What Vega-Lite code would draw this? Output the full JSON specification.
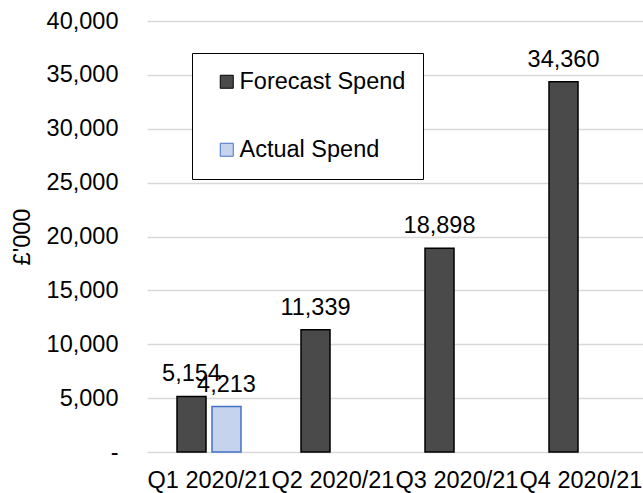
{
  "$schema": "https://vega.github.io/schema/vega-lite/v6.json",
  "width": 496,
  "height": 431,
  "autosize": "none",
  "padding": {"left": 147, "top": 21, "right": 0, "bottom": 41},
  "data": {
    "values": [
      {"quarter": "Q1 2020/21", "series": "Forecast Spend", "value": 5154},
      {"quarter": "Q1 2020/21", "series": "Actual Spend", "value": 4213},
      {"quarter": "Q2 2020/21", "series": "Forecast Spend", "value": 11339},
      {"quarter": "Q3 2020/21", "series": "Forecast Spend", "value": 18898},
      {"quarter": "Q4 2020/21", "series": "Forecast Spend", "value": 34360}
    ]
  },
  "encoding": {
    "x": {
      "field": "quarter",
      "type": "nominal",
      "sort": ["Q1 2020/21", "Q2 2020/21", "Q3 2020/21", "Q4 2020/21"],
      "scale": {"paddingInner": 0.484, "paddingOuter": 0.242},
      "axis": {"title": null, "labelAngle": 0, "domain": false, "ticks": false, "labelPadding": 16, "labelFontSize": 23.5, "labelColor": "#000000"}
    },
    "xOffset": {
      "field": "series",
      "type": "nominal",
      "sort": ["Forecast Spend", "Actual Spend"],
      "scale": {"domain": ["Forecast Spend", "Actual Spend"], "paddingInner": 0.171, "paddingOuter": 0}
    },
    "y": {
      "field": "value",
      "type": "quantitative",
      "scale": {"domain": [0, 40000], "nice": false},
      "axis": {
        "title": "£'000",
        "values": [0, 5000, 10000, 15000, 20000, 25000, 30000, 35000, 40000],
        "labelExpr": "datum.value == 0 ? '-' : format(datum.value, ',')",
        "domain": false,
        "ticks": false,
        "labelPadding": 29,
        "labelFontSize": 23.5,
        "labelColor": "#000000",
        "titleFontSize": 23.5,
        "titleFontWeight": "normal",
        "titleColor": "#000000",
        "titlePadding": 12,
        "gridColor": "#d9d9d9",
        "gridWidth": 1.3
      }
    }
  },
  "layer": [
    {
      "mark": {"type": "bar", "strokeWidth": 1.5},
      "encoding": {
        "color": {
          "field": "series",
          "type": "nominal",
          "scale": {"domain": ["Forecast Spend", "Actual Spend"], "range": ["#4a4a4a", "#c5d3ec"]},
          "legend": {
            "title": null,
            "orient": "none",
            "legendX": 45,
            "legendY": 32,
            "strokeColor": "#000000",
            "fillColor": "#ffffff",
            "padding": 17,
            "rowPadding": 43,
            "symbolType": "square",
            "symbolSize": 169,
            "symbolOffset": 6,
            "symbolStrokeWidth": 1,
            "labelOffset": 1,
            "labelFontSize": 23.5,
            "labelColor": "#000000",
            "labelLimit": 300
          }
        },
        "stroke": {
          "field": "series",
          "type": "nominal",
          "scale": {"domain": ["Forecast Spend", "Actual Spend"], "range": ["#000000", "#4472c4"]},
          "legend": null
        }
      }
    },
    {
      "mark": {"type": "text", "fontSize": 23.5, "color": "#000000", "dy": -15, "baseline": "alphabetic"},
      "encoding": {
        "text": {"field": "value", "type": "quantitative", "format": ","}
      }
    }
  ],
  "config": {
    "font": "Liberation Sans",
    "view": {"stroke": null}
  }
}
